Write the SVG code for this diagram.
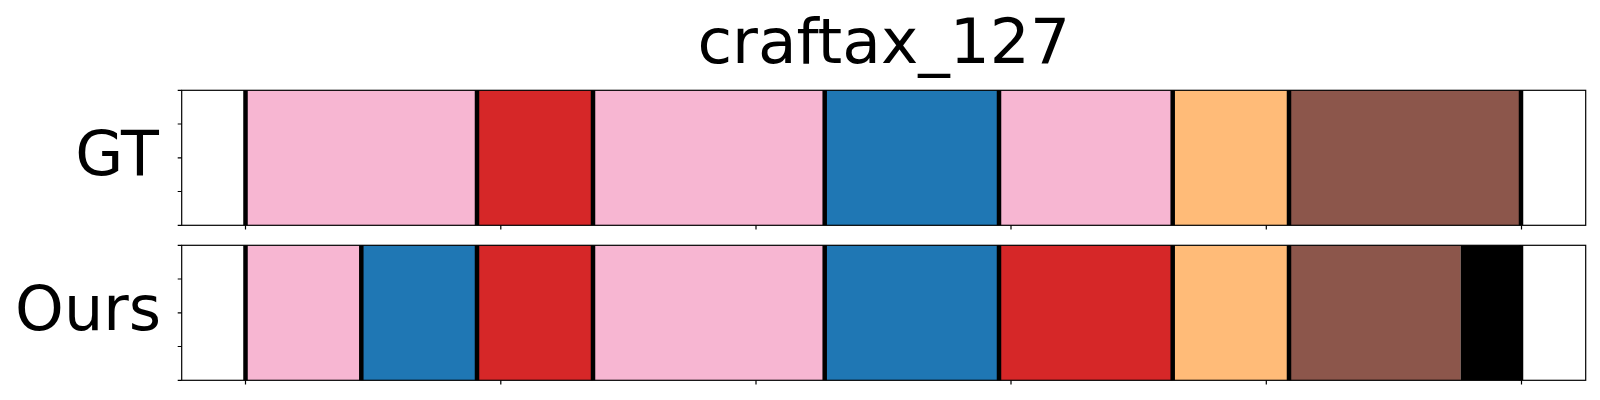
<svg xmlns="http://www.w3.org/2000/svg" width="1600" height="400" viewBox="0 0 1600 400">
<style>
text{font-family:"DejaVu Sans","Liberation Sans",sans-serif;fill:#000}
.lbl{font-size:62px;text-anchor:end}
.title{font-size:63px;text-anchor:middle}
.pink{fill:#f7b6d2}.red{fill:#d62728}.blue{fill:#1f77b4}.orange{fill:#ffbb78}.brown{fill:#8c564b}.blk{fill:#000}
.spine{fill:none;stroke:#000;stroke-width:1.2}
.tick{stroke:#000;stroke-width:1.2}
.bd{stroke:#000;stroke-width:4.5}
</style>
<rect width="1600" height="400" fill="#fff"/>
<text class="title" x="883.7" y="63.3">craftax_127</text>
<g id="gt">
<rect class="pink" x="245.5" y="90.3" width="231.5" height="135"/>
<rect class="red" x="477" y="90.3" width="116" height="135"/>
<rect class="pink" x="593" y="90.3" width="231.7" height="135"/>
<rect class="blue" x="824.7" y="90.3" width="174.3" height="135"/>
<rect class="pink" x="999" y="90.3" width="173.7" height="135"/>
<rect class="orange" x="1172.7" y="90.3" width="116.3" height="135"/>
<rect class="brown" x="1289" y="90.3" width="232" height="135"/>
<text class="lbl" x="159" y="175">GT</text>
</g>
<g id="ours">
<rect class="pink" x="245.5" y="245.3" width="115.8" height="135"/>
<rect class="blue" x="361.3" y="245.3" width="115.7" height="135"/>
<rect class="red" x="477" y="245.3" width="116" height="135"/>
<rect class="pink" x="593" y="245.3" width="231.7" height="135"/>
<rect class="blue" x="824.7" y="245.3" width="174.3" height="135"/>
<rect class="red" x="999" y="245.3" width="173.7" height="135"/>
<rect class="orange" x="1172.7" y="245.3" width="116.3" height="135"/>
<rect class="brown" x="1289" y="245.3" width="171.7" height="135"/>
<rect class="blk" x="1460.7" y="245.3" width="60.3" height="135"/>
<text class="lbl" x="161" y="330">Ours</text>
</g>
<g id="connectors">
<path class="bd" d="M245.5 90.3V225.3M477 90.3V225.3M593 90.3V225.3M824.7 90.3V225.3M999 90.3V225.3M1172.7 90.3V225.3M1289 90.3V225.3M1521 90.3V225.3"/>
<path class="bd" d="M245.5 245.3V380.3M361.3 245.3V380.3M477 245.3V380.3M593 245.3V380.3M824.7 245.3V380.3M999 245.3V380.3M1172.7 245.3V380.3M1289 245.3V380.3M1521 245.3V380.3"/>
</g>
<g id="axes">
<rect class="spine" x="181.7" y="90.3" width="1404" height="135"/>
<rect class="spine" x="181.7" y="245.3" width="1404" height="135"/>
<path class="tick" d="M177.7 90.3H181.7M177.7 124H181.7M177.7 157.8H181.7M177.7 191.5H181.7M177.7 225.3H181.7"/>
<path class="tick" d="M177.7 245.3H181.7M177.7 279H181.7M177.7 312.8H181.7M177.7 346.5H181.7M177.7 380.3H181.7"/>
<path class="tick" d="M245.5 225.3V229.5M500.8 225.3V229.5M756 225.3V229.5M1011 225.3V229.5M1266.3 225.3V229.5M1521.5 225.3V229.5"/>
<path class="tick" d="M245.5 380.3V384.5M500.8 380.3V384.5M756 380.3V384.5M1011 380.3V384.5M1266.3 380.3V384.5M1521.5 380.3V384.5"/>
</g>
</svg>
